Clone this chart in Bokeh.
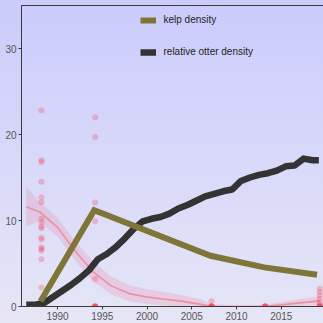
from bokeh.plotting import figure
from bokeh.models import (ColumnDataSource, Legend, LegendItem, FixedTicker,
                          LinearAxis, Range1d)
from bokeh.embed import file_html
from bokeh.resources import INLINE

# ---------------- data ----------------
x_ticks = [1990, 1995, 2000, 2005, 2010, 2015]
y_ticks = [0, 10, 20, 30]

kelp_year = [1988.1, 1994.1, 2007.1, 2013.1, 2019.0]
kelp_density = [0.6, 11.2, 5.9, 4.55, 3.7]

otter_year = [1986.5, 1987.5, 1988.5, 1989.5, 1990.5, 1991.5, 1992.5, 1993.5,
              1994.5, 1995.5, 1996.5, 1997.5, 1998.5, 1999.5, 2000.5, 2001.5,
              2002.5, 2003.5, 2004.5, 2005.5, 2006.5, 2007.5, 2008.5, 2009.5,
              2010.5, 2011.5, 2012.5, 2013.5, 2014.5, 2015.5, 2016.5, 2017.5,
              2018.5, 2019.2]
otter_density = [0.2, 0.2, 0.4, 1.1, 1.8, 2.5, 3.3, 4.2,
                 5.5, 6.1, 6.9, 7.9, 9.0, 9.9, 10.2, 10.4,
                 10.8, 11.4, 11.8, 12.3, 12.8, 13.1, 13.4, 13.6,
                 14.6, 15.0, 15.3, 15.5, 15.8, 16.3, 16.4, 17.2,
                 17.0, 17.0]

urchin_year = ([1988.2] * 17 + [1994.2] * 12 + [2007.2] * 7 +
               [2013.2] * 6 + [2019.3] * 11)
urchin_value = ([22.8, 17.0, 16.8, 14.5, 12.7, 12.1, 10.2, 9.8, 9.3, 9.1,
                 8.0, 7.8, 6.9, 6.7, 6.5, 5.5, 2.2] +
                [22.0, 19.7, 12.1, 11.1, 9.9, 3.2, 0, 0, 0, 0, 0, 0] +
                [0.6, 0, 0, 0, 0, 0, 0] +
                [0, 0, 0, 0, 0, 0] +
                [2.1, 1.7, 1.3, 0.9, 0.5, 0.2, 0, 0, 0, 0, 0])

smooth_year = [1986.5, 1988, 1990, 1992, 1994, 1996, 1998, 2000, 2002, 2004,
               2006, 2007.2, 2010, 2013.2, 2016, 2019.3]
smooth_fit = [11.6, 11.0, 9.2, 6.4, 4.0, 2.4, 1.5, 1.1, 0.85, 0.6,
              0.25, 0.0, 0.0, 0.0, 0.3, 0.65]
smooth_lo = [9.3, 9.9, 8.1, 5.3, 2.9, 1.4, 0.6, 0.3, 0.1, 0.0,
             0.0, 0.0, 0.0, 0.0, 0.0, 0.15]
smooth_hi = [13.9, 12.2, 10.3, 7.6, 5.2, 3.5, 2.5, 2.0, 1.7, 1.3,
             0.8, 0.3, 0.1, 0.2, 0.7, 1.2]

# ---------------- figure ----------------
FONT = "Liberation Sans"
p = figure(width=323, height=323, output_backend="svg", toolbar_location=None,
           x_range=Range1d(1985.97, 2019.72), y_range=Range1d(0, 35),
           min_border_left=21, min_border_right=0, min_border_top=5,
           min_border_bottom=17,
           styles={"background": "linear-gradient(to bottom, #cbcbfd 0%, #e6e6f6 100%)"})
p.background_fill_alpha = 0
p.border_fill_alpha = 0
p.outline_line_color = None
p.grid.visible = False

for ax in (p.xaxis[0], p.yaxis[0]):
    ax.axis_line_color = "#3a3a3a"
    ax.major_tick_line_color = "#3a3a3a"
    ax.major_tick_in = 0
    ax.major_tick_out = 3
    ax.minor_tick_line_color = None
    ax.major_label_text_font = FONT
    ax.major_label_text_font_size = "10px"
    ax.major_label_text_color = "#555555"
p.xaxis[0].ticker = FixedTicker(ticks=x_ticks)
p.yaxis[0].ticker = FixedTicker(ticks=y_ticks)
p.xaxis[0].major_label_standoff = 2
p.yaxis[0].major_label_standoff = 2

top_axis = LinearAxis(ticker=FixedTicker(ticks=[]), axis_line_color="#3a3a3a",
                      major_tick_out=0, major_tick_in=0, major_label_standoff=0,
                      major_label_text_font_size="0px",
                      minor_tick_line_color=None)
p.add_layout(top_axis, "above")

# smoothed band + line
p.varea(x=smooth_year, y1=smooth_lo, y2=smooth_hi, fill_color="#ec6c90",
        fill_alpha=0.2)
p.line(x=smooth_year, y=smooth_fit, line_color="#ee8797", line_width=1.6,
       line_alpha=0.9)

# urchin points
p.scatter(x=urchin_year, y=urchin_value, size=6, fill_color="#f83c52",
          fill_alpha=0.28, line_color=None)

# otter + kelp
r_otter = p.line(x=otter_year, y=otter_density, line_color="#333333",
                 line_width=6.5, line_join="round")
r_kelp = p.line(x=kelp_year, y=kelp_density, line_color="#807538",
                line_width=6, line_join="miter")

legend = Legend(items=[LegendItem(label="kelp density", renderers=[r_kelp]),
                       LegendItem(label="relative otter density", renderers=[r_otter])],
                location=(118.5, 244.5), padding=0, margin=0, spacing=12,
                glyph_width=16, glyph_height=20, label_height=20,
                label_standoff=8, label_text_font=FONT,
                label_text_font_size="10px", label_text_color="#222222",
                background_fill_alpha=0, border_line_color=None)
p.add_layout(legend)

open("out.html", "w").write(file_html(p, INLINE))
